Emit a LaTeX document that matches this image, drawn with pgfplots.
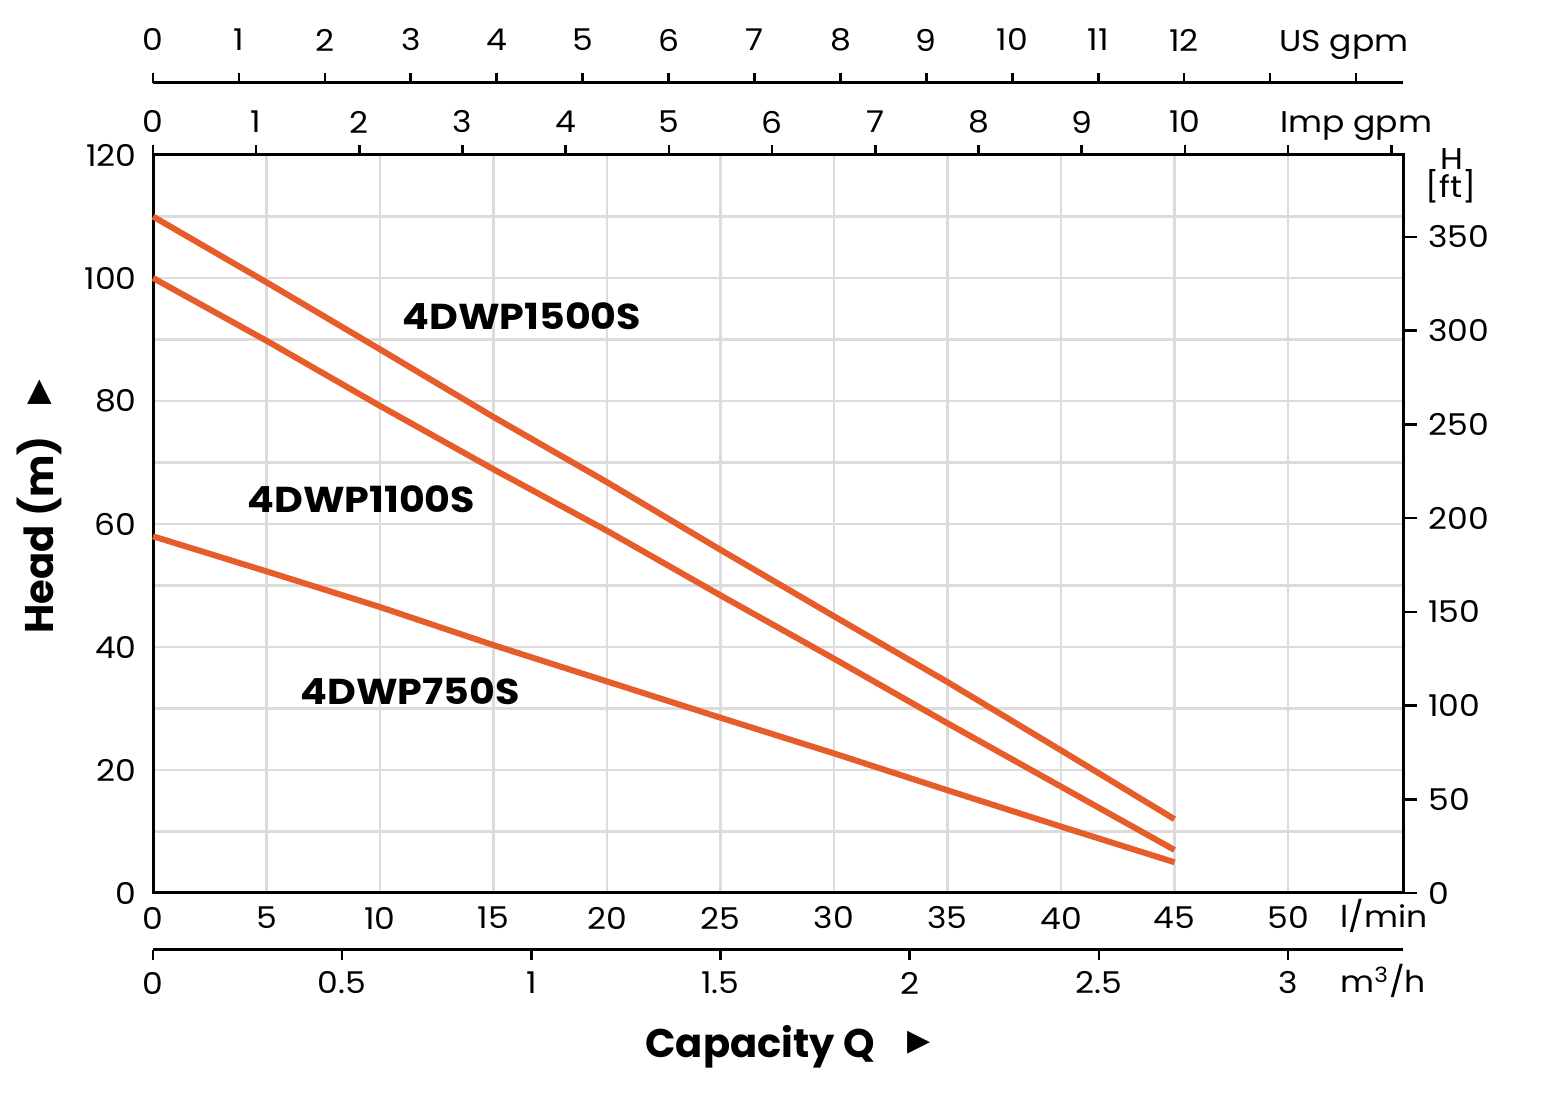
\documentclass[border=0pt]{standalone}
\usepackage{fontspec}
\setmainfont{Poppins}[FakeStretch=1.1]
\newfontfamily\plainfont{Poppins}
\newfontfamily\symfont{DejaVu Sans}
\usepackage{pgfplots}
\pgfplotsset{compat=1.18}
\definecolor{curve}{HTML}{E65C2A}
\definecolor{gridc}{HTML}{DCDCDC}
\newcommand\ticklab{\fontsize{15}{18}\selectfont}
\newcommand\serlab{\fontsize{18}{21}\selectfont\bfseries}
\newcommand\axlab{\plainfont\fontsize{20}{24}\selectfont\bfseries}
\pgfplotsset{
  base/.style={scale only axis, width=625pt,
    /pgf/number format/assume math mode=true,
    ticklabel style={font=\ticklab},
    axis line style={line width=1.5pt, black, -},
    tick style={line width=1.3pt, black}},
}
\begin{document}
\begin{tikzpicture}[x=0.5pt,y=0.5pt]
\path[use as bounding box] (0,0) rectangle (1563,1108);

% main axis (l/min vs m)
\begin{axis}[base,
  at={(76.5pt,107.5pt)}, anchor=south west, height=369pt,
  xmin=0, xmax=55.066, ymin=0, ymax=120,
  xtick={0,5,...,50}, xticklabels={0,5,10,15,20,25,30,35,40,45,50},
  ytick={0,20,...,120}, yticklabels={0,20,40,60,80,100,120},
  minor ytick={10,30,...,110},
  grid=both,
  major grid style={gridc, line width=1.1pt},
  minor grid style={gridc, line width=1.1pt},
  major tick length=0pt, minor tick length=0pt,
  xtick pos=bottom, ytick pos=left,
  xticklabel style={anchor=center, inner sep=0pt, yshift=-12.5pt},
  yticklabel style={anchor=east, inner sep=0pt, xshift=-8pt},
  clip=false,
]
\addplot[curve, line width=3pt] coordinates {(0,110) (5,99.3) (10,88.4) (15,77.4) (20,66.8) (25,55.8) (30,45.0) (35,34.3) (40,23.2) (45,12)};
\addplot[curve, line width=3pt] coordinates {(0,100) (5,89.8) (10,79.2) (15,68.9) (20,58.9) (25,48.4) (30,38.1) (35,27.6) (40,17.3) (45,7)};
\addplot[curve, line width=3pt] coordinates {(0,58) (5,52.3) (10,46.5) (15,40.3) (20,34.4) (25,28.5) (30,22.7) (35,16.7) (40,10.8) (45,5)};
\end{axis}

% Imp gpm (top of main box)
\begin{axis}[base,
  at={(76.5pt,107.5pt)}, anchor=south west, height=369pt,
  xmin=0, xmax=12.113, ymin=0, ymax=1,
  axis x line*=top, hide y axis,
  xtick={0,1,...,12}, xticklabels={0,1,2,3,4,5,6,7,8,9,10,{},{}},
  tick align=outside, major tick length=5pt,
  xticklabel style={anchor=center, inner sep=0pt, yshift=11.5pt},
]
\end{axis}

% ft (right of main box)
\begin{axis}[base,
  at={(76.5pt,107.5pt)}, anchor=south west, height=369pt,
  xmin=0, xmax=1, ymin=0, ymax=393.7,
  axis y line*=right, hide x axis,
  ytick={0,50,...,350}, yticklabels={0,50,100,150,200,250,300,350},
  tick align=outside, major tick length=7pt,
  yticklabel style={anchor=west, inner sep=0pt, xshift=5.5pt},
]
\end{axis}

% US gpm
\begin{axis}[base,
  at={(76.5pt,502.5pt)}, anchor=south west, height=10pt,
  xmin=0, xmax=14.547, ymin=0, ymax=1,
  axis x line*=top, hide y axis,
  xtick={0,1,...,14}, xticklabels={0,1,2,3,4,5,6,7,8,9,10,11,12,{},{}},
  tick align=outside, major tick length=5pt,
  xticklabel style={anchor=center, inner sep=0pt, yshift=16.5pt},
]
\end{axis}

% m3/h
\begin{axis}[base,
  at={(76.5pt,79pt)}, anchor=south west, height=10pt,
  xmin=0, xmax=3.304, ymin=0, ymax=1,
  axis x line*=bottom, hide y axis,
  xtick={0,0.5,1,1.5,2,2.5,3}, xticklabels={0,0.5,1,1.5,2,2.5,3},
  tick align=outside, major tick length=5pt,
  xticklabel style={anchor=center, inner sep=0pt, yshift=-11.5pt},
]
\end{axis}

% unit labels
\node[anchor=base west, inner sep=0pt, font=\ticklab] at (1279,1056) {US gpm};
\node[anchor=base west, inner sep=0pt, font=\ticklab] at (1280,975) {Imp gpm};
\node[anchor=base west, inner sep=0pt, font=\ticklab] at (1340,180) {l/min};
\node[anchor=base west, inner sep=0pt, font=\ticklab] at (1340,115) {m\textsuperscript{3}/h};
\node[anchor=base, inner sep=0pt, font=\ticklab] at (1452,938) {H};
\node[anchor=base, inner sep=0pt, font=\ticklab] at (1451,910) {[ft]};

% axis titles
\node[anchor=base, inner sep=0pt, rotate=90, font=\axlab] at (53.5,573) {Head (m)};
\node[inner sep=0pt, font=\symfont\fontsize{16}{18}\selectfont] at (39.5,716) {▲};
\node[anchor=base west, inner sep=0pt, font=\axlab] at (645,50) {Capacity Q};
\node[inner sep=0pt, font=\symfont\fontsize{15}{16}\selectfont] at (919.5,65) {▶};

% series labels
\node[anchor=base west, inner sep=0pt, font=\serlab] at (402,778) {4DWP1500S};
\node[anchor=base west, inner sep=0pt, font=\serlab] at (247,595) {4DWP1100S};
\node[anchor=base west, inner sep=0pt, font=\serlab] at (300,403) {4DWP750S};
\end{tikzpicture}
\end{document}
